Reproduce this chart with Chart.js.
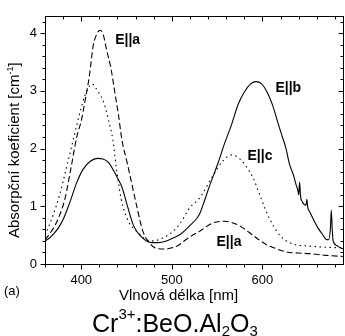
<!DOCTYPE html>
<html>
<head>
<meta charset="utf-8">
<script src="https://cdn.jsdelivr.net/npm/chart.js@4.4.1/dist/chart.umd.min.js"></script>
<style>
    html, body { margin: 0; padding: 0; background: #fff; }
    canvas { display: block; }
</style>
</head>
<body>
<canvas id="spektrum" width="345" height="336"></canvas>
<script>
// E||b - plna cara
const waveB = [360, 365, 370, 375, 380, 387, 395, 402, 410, 418, 424, 430, 436, 440, 445, 450, 457, 462, 467, 472, 478, 485, 494, 500, 509, 515, 520, 527, 531, 535, 542, 551, 558, 566, 573, 580, 587, 593, 599, 605, 611, 617, 621, 626, 630, 634, 637, 639, 640, 641, 642, 644, 648, 649, 650, 652, 657, 661, 666, 670, 673, 675, 676, 677, 678, 682, 686, 690];
const absB = [0.40, 0.45, 0.53, 0.63, 0.77, 1.05, 1.41, 1.64, 1.78, 1.83, 1.82, 1.76, 1.61, 1.49, 1.33, 1.06, 0.69, 0.55, 0.46, 0.40, 0.37, 0.37, 0.40, 0.44, 0.51, 0.59, 0.67, 0.78, 0.88, 1.05, 1.37, 1.75, 2.08, 2.42, 2.76, 2.98, 3.12, 3.16, 3.12, 2.98, 2.76, 2.45, 2.25, 2.00, 1.72, 1.55, 1.38, 1.28, 1.20, 1.42, 1.18, 1.08, 1.02, 1.12, 0.98, 0.91, 0.75, 0.63, 0.52, 0.43, 0.42, 0.62, 0.93, 0.60, 0.40, 0.32, 0.28, 0.26];

// E||a - carkovana
const waveA = [360, 365, 370, 375, 382, 389, 395, 400, 404, 409, 413, 417, 421, 424, 428, 433, 437, 441, 445, 450, 454, 461, 468, 476, 483, 494, 500, 507, 512, 520, 531, 545, 558, 566, 575, 585, 597, 605, 611, 626, 640, 652, 670, 690];
const absA = [0.42, 0.52, 0.64, 0.80, 1.13, 1.69, 2.20, 2.48, 2.81, 3.26, 3.76, 3.98, 4.05, 3.99, 3.71, 3.37, 2.98, 2.59, 2.14, 1.80, 1.52, 1.02, 0.57, 0.35, 0.27, 0.26, 0.28, 0.32, 0.38, 0.47, 0.57, 0.71, 0.74, 0.72, 0.66, 0.55, 0.41, 0.33, 0.29, 0.21, 0.19, 0.18, 0.15, 0.13];

// E||c - teckovana
const waveC = [360, 362, 369, 376, 384, 391, 398, 404, 409, 412, 416, 420, 424, 430, 435, 439, 444, 452, 461, 472, 479, 490, 500, 509, 520, 531, 545, 556, 566, 575, 582, 590, 597, 603, 608, 619, 633, 652, 670, 690];
const absC = [0.50, 0.57, 0.85, 1.19, 1.69, 2.14, 2.59, 2.92, 3.08, 3.12, 3.05, 2.95, 2.84, 2.50, 2.14, 1.64, 1.13, 0.74, 0.57, 0.42, 0.40, 0.45, 0.55, 0.70, 0.98, 1.15, 1.52, 1.78, 1.89, 1.82, 1.69, 1.48, 1.20, 0.95, 0.78, 0.50, 0.35, 0.31, 0.29, 0.28];

const xTicks = [400, 500, 600];
const yTicks = [0, 1, 2, 3, 4];

// popisky krivek [text, vlnova delka, hodnota]
const popisky = [
    ['E||a', 437.4, 3.81],
    ['E||b', 614.3, 2.98],
    ['E||c', 583.5, 1.80],
    ['E||a', 549.3, 0.31]
];

const pismo = '"Liberation Sans", Arial, sans-serif';

function body(w, a) {
    return w.map((x, i) => ({ x: x, y: a[i] }));
}

function serie(w, a, dash) {
    return {
        data: body(w, a),
        borderColor: '#000',
        borderWidth: 1.1,
        borderDash: dash,
        pointRadius: 0,
        cubicInterpolationMode: 'monotone',
        fill: false
    };
}

// text poskladany z kousku (horni a dolni indexy)
function kousky(ctx, parts, x, y) {
    parts.forEach(p => {
        ctx.font = p[1] + 'px ' + pismo;
        ctx.fillText(p[0], x, y + p[2]);
        x += ctx.measureText(p[0]).width;
    });
}

const ramecek = {
    id: 'ramecek',
    afterDraw(chart) {
        const ctx = chart.ctx;
        const a = chart.chartArea;
        const sx = chart.scales.x, sy = chart.scales.y;
        const L = Math.round(a.left) + 0.5, R = Math.round(a.right) - 0.5;
        const T = Math.round(a.top) + 0.5, B = Math.round(a.bottom) + 0.5;
        ctx.save();
        ctx.strokeStyle = '#000';
        ctx.lineWidth = 1;
        ctx.strokeRect(L, T, R - L, B - T);

        ctx.beginPath();
        for (let v = sx.min; v <= sx.max; v += 20) {
            const px = Math.round(sx.getPixelForValue(v)) + 0.5;
            const len = v % 100 === 0 ? 5 : 3;
            ctx.moveTo(px, B); ctx.lineTo(px, B + len);
            ctx.moveTo(px, T); ctx.lineTo(px, T + len);
        }
        for (let i = 0; i * 0.2 <= sy.max; i++) {
            const py = Math.round(sy.getPixelForValue(i * 0.2)) + 0.5;
            const len = i % 5 === 0 ? 5 : 3;
            ctx.moveTo(L, py); ctx.lineTo(L - len, py);
            ctx.moveTo(R, py); ctx.lineTo(R - len, py);
        }
        ctx.stroke();

        ctx.fillStyle = '#000';
        ctx.textBaseline = 'alphabetic';
        ctx.textAlign = 'left';

        ctx.font = 'bold 14px ' + pismo;
        popisky.forEach(p => {
            ctx.fillText(p[0], sx.getPixelForValue(p[1]), sy.getPixelForValue(p[2]));
        });

        // osa x
        ctx.font = '15px ' + pismo;
        ctx.fillText('Vlnová délka [nm]', 119, 300);
        ctx.font = '13px ' + pismo;
        ctx.fillText('(a)', 4, 295);

        // osa y
        ctx.save();
        ctx.translate(19, 238);
        ctx.rotate(-Math.PI / 2);
        kousky(ctx, [['Absorpční koeficient [cm', 15, 0], ['-1', 9, -6], [']', 15, 0]], 0, 0);
        ctx.restore();

        // vzorec
        kousky(ctx, [
            ['Cr', 25, 0], ['3+', 15, -13], [':BeO.Al', 25, 0],
            ['2', 15, 4], ['O', 25, 0], ['3', 15, 4]
        ], 92, 332);
        ctx.restore();
    }
};

new Chart(document.getElementById('spektrum'), {
    type: 'line',
    data: {
        datasets: [
            serie(waveB, absB, []),
            serie(waveA, absA, [6, 3]),
            serie(waveC, absC, [1.5, 3.5])
        ]
    },
    options: {
        responsive: false,
        animation: false,
        devicePixelRatio: 1,
        layout: { padding: { top: 9, right: 1, left: 0, bottom: 0 } },
        plugins: { legend: { display: false }, tooltip: { enabled: false } },
        scales: {
            x: {
                type: 'linear',
                min: 360,
                max: 690,
                grid: { display: false, drawTicks: false },
                border: { display: false },
                afterBuildTicks: s => { s.ticks = xTicks.map(v => ({ value: v })); },
                afterFit: s => { s.height = 72; },
                ticks: { color: '#000', font: { family: pismo, size: 13 }, padding: 9, maxRotation: 0 }
            },
            y: {
                min: 0,
                max: 4.3,
                grid: { display: false, drawTicks: false },
                border: { display: false },
                afterBuildTicks: s => { s.ticks = yTicks.map(v => ({ value: v })); },
                afterFit: s => { s.width = 45; },
                ticks: { color: '#000', font: { family: pismo, size: 13 }, padding: 8 }
            }
        }
    },
    plugins: [ramecek]
});
</script>
</body>
</html>
